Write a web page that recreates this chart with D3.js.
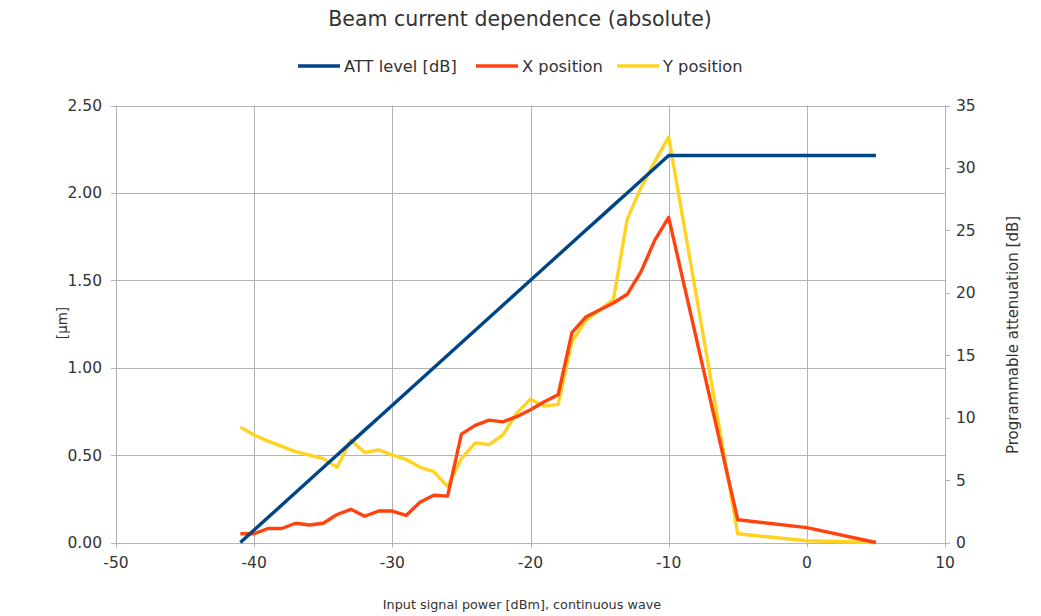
<!DOCTYPE html>
<html lang="en">
<head>
    <meta charset="UTF-8">
    <title>Beam current dependence (absolute)</title>
    <script src="https://d3js.org/d3.v7.min.js"></script>
    <style>
        body { margin: 0; background: #fff; }
        svg { display: block; }
        text { font-family: "DejaVu Sans", "Liberation Sans", sans-serif; fill: #333; }
    </style>
</head>
<body>
    <svg width="1041" height="616"></svg>
    <script>
        // input power points [dBm]
        const power = [-41, -40, -39, -38, -37, -36, -35, -34, -33, -32, -31, -30, -29, -28, -27, -26,
            -25, -24, -23, -22, -21, -20, -19, -18, -17, -16, -15, -14, -13, -12, -11, -10, -5, 0, 5];
        // attenuator level [dB]
        const attLevel = [0, 1, 2, 3, 4, 5, 6, 7, 8, 9, 10, 11, 12, 13, 14, 15,
            16, 17, 18, 19, 20, 21, 22, 23, 24, 25, 26, 27, 28, 29, 30, 31, 31, 31, 31];
        // positions [um]
        const xPos = [0.05, 0.05, 0.08, 0.08, 0.11, 0.10, 0.11, 0.16, 0.19, 0.15, 0.18, 0.18, 0.155, 0.23, 0.27, 0.265,
            0.62, 0.67, 0.70, 0.69, 0.72, 0.76, 0.805, 0.845, 1.20, 1.29, 1.33, 1.37, 1.42, 1.55, 1.73, 1.86, 0.13, 0.085, 0.0];
        const yPos = [0.66, 0.615, 0.58, 0.55, 0.52, 0.50, 0.48, 0.43, 0.585, 0.515, 0.53, 0.50, 0.475, 0.43, 0.405, 0.32,
            0.48, 0.57, 0.56, 0.615, 0.74, 0.82, 0.78, 0.79, 1.15, 1.27, 1.33, 1.39, 1.85, 2.03, 2.18, 2.32, 0.05, 0.01, 0.0];

        const xTicks = [-50, -40, -30, -20, -10, 0, 10];
        const leftTicks = [0, 0.5, 1, 1.5, 2, 2.5];
        const rightTicks = [0, 5, 10, 15, 20, 25, 30, 35];

        const svg = d3.select("svg");
        const m = { left: 116, right: 945, top: 105.5, bottom: 542.5 };

        const x = d3.scaleLinear().domain([-50, 10]).range([m.left, m.right]);
        const yL = d3.scaleLinear().domain([0, 2.5]).range([m.bottom, m.top]);
        const yR = d3.scaleLinear().domain([0, 35]).range([m.bottom, m.top]);

        // gridlines + tick marks
        const grid = svg.append("g").attr("stroke", "#b3b3b3").attr("stroke-width", 1);
        grid.selectAll(".v").data(xTicks).enter().append("line")
            .attr("x1", d => Math.round(x(d)) + 0.5).attr("x2", d => Math.round(x(d)) + 0.5)
            .attr("y1", m.top).attr("y2", m.bottom + 5);
        grid.selectAll(".h").data(leftTicks).enter().append("line")
            .attr("x1", m.left - 5).attr("x2", m.right)
            .attr("y1", d => Math.round(yL(d)) + 0.5).attr("y2", d => Math.round(yL(d)) + 0.5);
        grid.selectAll(".r").data(rightTicks).enter().append("line")
            .attr("x1", m.right).attr("x2", m.right + 5)
            .attr("y1", d => Math.round(yR(d)) + 0.5).attr("y2", d => Math.round(yR(d)) + 0.5);

        // tick labels
        svg.selectAll(".xl").data(xTicks).enter().append("text")
            .attr("x", d => x(d)).attr("y", 568)
            .attr("text-anchor", "middle").attr("font-size", 15.5)
            .text(d => d);
        svg.selectAll(".yl").data(leftTicks).enter().append("text")
            .attr("x", 102).attr("y", d => yL(d) + 5.5)
            .attr("text-anchor", "end").attr("font-size", 15.5)
            .text(d => d3.format(".2f")(d));
        svg.selectAll(".yr").data(rightTicks).enter().append("text")
            .attr("x", 956).attr("y", d => yR(d) + 5.5)
            .attr("text-anchor", "start").attr("font-size", 15.5)
            .text(d => d);

        // series
        const series = [
            { name: "ATT level [dB]", vals: attLevel, scale: yR, color: "#004586" },
            { name: "X position", vals: xPos, scale: yL, color: "#ff420e" },
            { name: "Y position", vals: yPos, scale: yL, color: "#ffd320" }
        ];

        // yellow first, then red, blue on top
        [series[2], series[1], series[0]].forEach(s => {
            const line = d3.line()
                .x((d, i) => x(power[i]))
                .y(d => s.scale(d));
            svg.append("path")
                .datum(s.vals)
                .attr("d", line)
                .attr("fill", "none")
                .attr("stroke", s.color)
                .attr("stroke-width", 3.4)
                .attr("stroke-linejoin", "round");
        });

        // title
        svg.append("text")
            .attr("x", 520).attr("y", 26)
            .attr("text-anchor", "middle").attr("font-size", 20.5)
            .text("Beam current dependence (absolute)");

        // legend
        const legendX = [298, 476, 617];
        const lg = svg.selectAll(".lg").data(series).enter().append("g")
            .attr("transform", (d, i) => `translate(${legendX[i]},66)`);
        lg.append("line")
            .attr("x1", 0).attr("x2", 42).attr("y1", 0).attr("y2", 0)
            .attr("stroke", d => d.color).attr("stroke-width", 3.4);
        lg.append("text")
            .attr("x", 46).attr("y", 6).attr("font-size", 16.3)
            .text(d => d.name);

        // axis titles
        svg.append("text")
            .attr("x", 522).attr("y", 609)
            .attr("text-anchor", "middle").attr("font-size", 12.8)
            .text("Input signal power [dBm], continuous wave");
        svg.append("text")
            .attr("transform", "translate(67,323) rotate(-90)")
            .attr("text-anchor", "middle").attr("font-size", 13.5)
            .text("[µm]");
        svg.append("text")
            .attr("transform", "translate(1018,335) rotate(-90)")
            .attr("text-anchor", "middle").attr("font-size", 15)
            .text("Programmable attenuation [dB]");
    </script>
</body>
</html>
